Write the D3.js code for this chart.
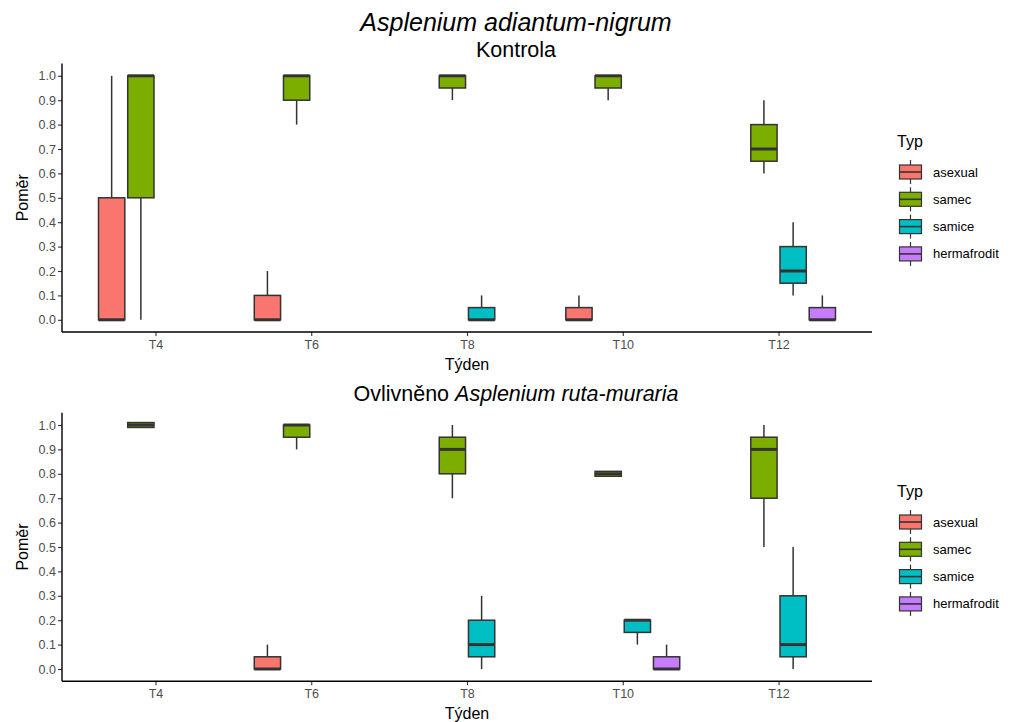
<!DOCTYPE html>
<html>
<head>
<meta charset="utf-8">
<script src="https://cdn.jsdelivr.net/npm/d3@7"></script>
<style>
  body { margin: 0; background: #fff; }
  svg { font-family: "Liberation Sans", Arial, sans-serif; }
</style>
</head>
<body>
<svg width="1015" height="722"></svg>
<script>
// categories
const weeks = ["T4", "T6", "T8", "T10", "T12"];
const types = ["asexual", "samec", "samice", "hermafrodit"];
const yTicks = [0, 0.1, 0.2, 0.3, 0.4, 0.5, 0.6, 0.7, 0.8, 0.9, 1.0];

// box stats: week, type, lower whisker, q1, median, q3, upper whisker
const kontrola = [
  ["T4", "asexual", 0, 0, 0, 0.5, 1.0],
  ["T4", "samec", 0, 0.5, 1.0, 1.0, 1.0],
  ["T6", "asexual", 0, 0, 0, 0.1, 0.2],
  ["T6", "samec", 0.8, 0.9, 1.0, 1.0, 1.0],
  ["T8", "samec", 0.9, 0.95, 1.0, 1.0, 1.0],
  ["T8", "samice", 0, 0, 0, 0.05, 0.1],
  ["T10", "asexual", 0, 0, 0, 0.05, 0.1],
  ["T10", "samec", 0.9, 0.95, 1.0, 1.0, 1.0],
  ["T12", "samec", 0.6, 0.65, 0.7, 0.8, 0.9],
  ["T12", "samice", 0.1, 0.15, 0.2, 0.3, 0.4],
  ["T12", "hermafrodit", 0, 0, 0, 0.05, 0.1]
];

const ovlivneno = [
  ["T4", "samec", 0.99, 0.99, 1.0, 1.01, 1.01],
  ["T6", "asexual", 0, 0, 0, 0.05, 0.1],
  ["T6", "samec", 0.9, 0.95, 1.0, 1.0, 1.0],
  ["T8", "samec", 0.7, 0.8, 0.9, 0.95, 1.0],
  ["T8", "samice", 0, 0.05, 0.1, 0.2, 0.3],
  ["T10", "samec", 0.79, 0.79, 0.8, 0.81, 0.81],
  ["T10", "samice", 0.1, 0.15, 0.2, 0.2, 0.2],
  ["T10", "hermafrodit", 0, 0, 0, 0.05, 0.1],
  ["T12", "samec", 0.5, 0.7, 0.9, 0.95, 1.0],
  ["T12", "samice", 0, 0.05, 0.1, 0.3, 0.5]
];

const typeColors = ["#F8766D", "#7CAE00", "#00BFC4", "#C77CFF"];

var svg = d3.select("svg");

var color = d3.scaleOrdinal().domain(types).range(typeColors);

var x = d3.scalePoint()
  .domain(weeks)
  .range([62, 872])
  .padding(0.6);

var step = x.step();
var dodgeW = step * 0.75 / types.length;
var boxW = dodgeW * 0.9;

const boxX = (d) => x(d[0]) + (types.indexOf(d[1]) - 1.5) * dodgeW;

// main title
svg.append("text")
  .attr("x", 516).attr("y", 31)
  .attr("text-anchor", "middle")
  .attr("font-size", 25)
  .attr("font-style", "italic")
  .text("Asplenium adiantum-nigrum");

function drawPanel(rows, top, bottom, titleY, titleNode, legendY) {
  var y = d3.scaleLinear()
    .domain([-0.05, 1.05])
    .range([bottom, top]);

  var g = svg.append("g");

  // panel title
  titleNode(g.append("text")
    .attr("x", 516)
    .attr("y", titleY)
    .attr("text-anchor", "middle")
    .attr("font-size", 21.5));

  // axes
  var yAxis = g.append("g")
    .attr("transform", "translate(62,0)")
    .call(d3.axisLeft(y).tickValues(yTicks).tickFormat(d3.format(".1f")).tickSize(4).tickSizeOuter(0));
  var xAxis = g.append("g")
    .attr("transform", "translate(0," + bottom + ")")
    .call(d3.axisBottom(x).tickSize(4).tickSizeOuter(0));

  [yAxis, xAxis].forEach(function(a) {
    a.select(".domain").remove();
    a.selectAll(".tick line").attr("stroke", "#333").attr("stroke-width", 1.1);
    a.selectAll(".tick text").attr("fill", "#4D4D4D").attr("font-size", 12.5)
      .attr("font-family", "Liberation Sans, Arial, sans-serif");
  });
  yAxis.selectAll(".tick text").attr("x", -6);
  xAxis.selectAll(".tick text").attr("y", 8);

  g.append("line")
    .attr("x1", 62).attr("x2", 62).attr("y1", top).attr("y2", bottom)
    .attr("stroke", "#000").attr("stroke-width", 1.4);
  g.append("line")
    .attr("x1", 62).attr("x2", 872).attr("y1", bottom).attr("y2", bottom)
    .attr("stroke", "#000").attr("stroke-width", 1.4);

  // axis titles
  g.append("text")
    .attr("transform", "translate(22," + ((top + bottom) / 2) + ") rotate(-90)")
    .attr("text-anchor", "middle")
    .attr("dy", "0.35em")
    .attr("font-size", 16)
    .text("Poměr");
  g.append("text")
    .attr("x", 467).attr("y", bottom + 38)
    .attr("text-anchor", "middle")
    .attr("font-size", 16)
    .text("Týden");

  // boxes
  var box = g.append("g").selectAll("g")
    .data(rows)
    .enter().append("g");

  box.append("line")
    .attr("x1", boxX).attr("x2", boxX)
    .attr("y1", (d) => y(d[2])).attr("y2", (d) => y(d[3]))
    .attr("stroke", "#333").attr("stroke-width", 1.5);
  box.append("line")
    .attr("x1", boxX).attr("x2", boxX)
    .attr("y1", (d) => y(d[5])).attr("y2", (d) => y(d[6]))
    .attr("stroke", "#333").attr("stroke-width", 1.5);
  box.append("rect")
    .attr("x", (d) => boxX(d) - boxW / 2)
    .attr("width", boxW)
    .attr("y", (d) => y(d[5]))
    .attr("height", (d) => y(d[3]) - y(d[5]))
    .attr("fill", (d) => color(d[1]))
    .attr("stroke", "#333").attr("stroke-width", 1.5);
  box.append("line")
    .attr("x1", (d) => boxX(d) - boxW / 2).attr("x2", (d) => boxX(d) + boxW / 2)
    .attr("y1", (d) => y(d[4])).attr("y2", (d) => y(d[4]))
    .attr("stroke", "#333").attr("stroke-width", 3);

  // legend
  var lg = g.append("g").attr("transform", "translate(897," + legendY + ")");
  lg.append("text")
    .attr("x", 0).attr("y", 0)
    .attr("dy", "0.35em")
    .attr("font-size", 16)
    .text("Typ");
  var item = lg.selectAll("g.item")
    .data(types)
    .enter().append("g")
    .attr("class", "item")
    .attr("transform", (d, i) => "translate(0," + (31 + i * 27.3) + ")");
  item.append("line")
    .attr("x1", 13.5).attr("x2", 13.5).attr("y1", -12).attr("y2", 12)
    .attr("stroke", "#333").attr("stroke-width", 1.2);
  item.append("rect")
    .attr("x", 2.5).attr("y", -7).attr("width", 22).attr("height", 14)
    .attr("fill", (d) => color(d))
    .attr("stroke", "#333").attr("stroke-width", 1.2);
  item.append("line")
    .attr("x1", 2.5).attr("x2", 24.5).attr("y1", 0).attr("y2", 0)
    .attr("stroke", "#333").attr("stroke-width", 1.6);
  item.append("text")
    .attr("x", 36).attr("y", 0)
    .attr("dy", "0.35em")
    .attr("font-size", 13)
    .text((d) => d);
}

drawPanel(kontrola, 63.6, 332, 57, function(t) {
  t.text("Kontrola");
}, 141);

drawPanel(ovlivneno, 412.8, 681.2, 401, function(t) {
  t.append("tspan").text("Ovlivněno ");
  t.append("tspan").attr("font-style", "italic").text("Asplenium ruta-muraria");
}, 491);
</script>
</body>
</html>
